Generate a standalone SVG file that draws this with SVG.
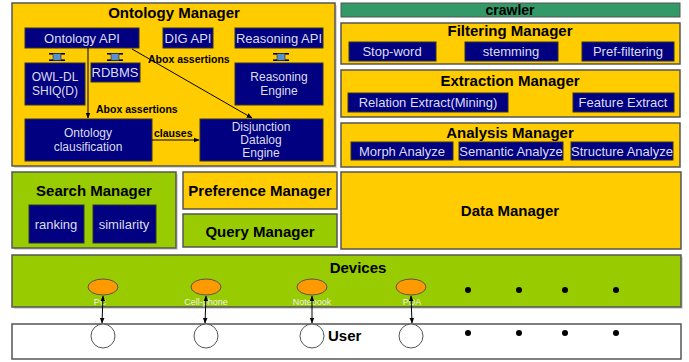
<svg xmlns="http://www.w3.org/2000/svg" width="689" height="362" viewBox="0 0 689 362">
<defs>
<style>
.yel{fill:#FFCC00;stroke:#555;stroke-width:1.5}
.grn{fill:#99CC00;stroke:#555;stroke-width:1.5}
.nv{fill:#000080;stroke:#333;stroke-width:1}
.sh{fill:#d8d8d8}
.t{font-family:"Liberation Sans",Arial,sans-serif;font-weight:bold;font-size:15px;fill:#000;text-anchor:middle;dominant-baseline:central}
.w{font-family:"Liberation Sans",Arial,sans-serif;font-size:13px;fill:#dde;text-anchor:middle;dominant-baseline:central}
.w2{font-family:"Liberation Sans",Arial,sans-serif;font-size:13px;fill:#dde;text-anchor:middle;dominant-baseline:central}
.m{font-family:"Liberation Sans",Arial,sans-serif;font-size:12px;fill:#dde;text-anchor:middle;dominant-baseline:central}
.lb{font-family:"Liberation Sans",Arial,sans-serif;font-weight:bold;font-size:10.5px;fill:#000;dominant-baseline:central}
.dl{font-family:"Liberation Sans",Arial,sans-serif;font-size:9px;fill:#eee;text-anchor:middle;dominant-baseline:central}
.ln{stroke:#000;stroke-width:1;fill:none}
.dot{fill:#000}
</style>
<marker id="ah" viewBox="0 0 10 10" refX="9" refY="5" markerWidth="6" markerHeight="6" orient="auto-start-reverse"><path d="M0,1 L10,5 L0,9 z" fill="#000"/></marker>
<g id="plug"><rect x="-8" y="-4" width="16" height="1.6" fill="#000"/><rect x="-8" y="2.4" width="16" height="1.6" fill="#000"/><rect x="-4" y="-3.5" width="8" height="7" fill="#5B8FD0" stroke="#223" stroke-width="0.6"/></g>
</defs>
<rect width="689" height="362" fill="#fff"/>

<g id="ontology-manager">
<rect x="14" y="5" width="323" height="163" class="sh"/>
<rect x="12" y="3" width="323" height="163" class="yel"/>
<text x="174" y="12" class="t">Ontology Manager</text>
</g>
<g id="ontology-api"><rect x="25" y="28" width="114" height="20" class="nv"/><text x="82" y="38" class="w2">Ontology API</text></g>
<g id="dig-api"><rect x="163" y="28" width="50" height="20" class="nv"/><text x="188" y="38" class="w2">DIG API</text></g>
<g id="reasoning-api"><rect x="235" y="28" width="88" height="20" class="nv"/><text x="279" y="38" class="w2">Reasoning API</text></g>
<use href="#plug" x="57" y="57"/>
<use href="#plug" x="115" y="57"/>
<use href="#plug" x="281" y="57"/>
<g id="owl-dl"><rect x="25" y="63" width="60" height="42" class="nv"/><text x="55" y="77" class="m">OWL-DL</text><text x="55" y="91" class="m">SHIQ(D)</text></g>
<g id="rdbms"><rect x="91" y="63" width="49" height="19" class="nv"/><text x="115" y="72" class="w2">RDBMS</text></g>
<g id="reasoning-engine"><rect x="235" y="63" width="88" height="42" class="nv"/><text x="279" y="77" class="m">Reasoning</text><text x="279" y="91" class="m">Engine</text></g>
<g id="ontology-clausification"><rect x="25" y="119" width="127" height="42" class="nv"/><text x="88" y="133" class="m">Ontology</text><text x="88" y="147" class="m">clausification</text></g>
<g id="disjunction-datalog"><rect x="200" y="119" width="123" height="42" class="nv"/><text x="261" y="127" class="m">Disjunction</text><text x="261" y="140" class="m">Datalog</text><text x="261" y="153" class="m">Engine</text></g>

<g id="crawler"><rect x="341" y="3" width="339" height="14" fill="#339966" stroke="#555" stroke-width="1"/><text x="510" y="10" class="t" style="font-size:14px">crawler</text></g>
<g id="filtering-manager">
<rect x="341" y="23" width="339" height="41" class="yel"/>
<text x="510" y="30" class="t">Filtering Manager</text>
<rect x="349" y="42" width="87" height="19" class="nv"/><text x="392" y="51" class="w2">Stop-word</text>
<rect x="465" y="42" width="93" height="19" class="nv"/><text x="511" y="51" class="w">stemming</text>
<rect x="582" y="42" width="92" height="19" class="nv"/><text x="628" y="51" class="w2">Pref-filtering</text>
</g>
<g id="extraction-manager">
<rect x="341" y="70" width="339" height="47" class="yel"/>
<text x="510" y="80" class="t">Extraction Manager</text>
<rect x="348" y="93" width="160" height="19" class="nv"/><text x="428" y="102" class="w2">Relation Extract(Mining)</text>
<rect x="573" y="93" width="101" height="19" class="nv"/><text x="623" y="102" class="w2">Feature Extract</text>
</g>
<g id="analysis-manager">
<rect x="341" y="123" width="339" height="44" class="yel"/>
<text x="510" y="132" class="t">Analysis Manager</text>
<rect x="351" y="142" width="102" height="18" class="nv"/><text x="402" y="151" class="w2">Morph Analyze</text>
<rect x="459" y="142" width="104" height="18" class="nv"/><text x="511" y="151" class="w2">Semantic Analyze</text>
<rect x="571" y="142" width="102" height="18" class="nv"/><text x="622" y="151" class="w2">Structure Analyze</text>
</g>

<g id="search-manager">
<rect x="14" y="174" width="164" height="76" class="sh"/>
<rect x="12" y="172" width="164" height="76" class="grn"/>
<text x="94" y="190" class="t">Search Manager</text>
<rect x="29" y="205" width="55" height="38" class="nv"/><text x="56" y="224" class="w">ranking</text>
<rect x="93" y="205" width="63" height="38" class="nv"/><text x="124" y="224" class="w">similarity</text>
</g>
<g id="preference-manager"><rect x="183" y="172" width="154" height="37" class="yel"/><text x="260" y="190" class="t">Preference Manager</text></g>
<g id="query-manager"><rect x="183" y="214" width="154" height="33" class="grn"/><text x="260" y="231" class="t">Query Manager</text></g>
<g id="data-manager"><rect x="341" y="172" width="340" height="77" class="yel"/><text x="510" y="210" class="t">Data Manager</text></g>

<g id="devices">
<rect x="14" y="257" width="669" height="52" class="sh"/>
<rect x="12" y="255" width="669" height="52" class="grn"/>
<text x="358" y="267" class="t">Devices</text>
</g>
<g id="pc"><ellipse cx="103" cy="287" rx="15" ry="8" fill="#FF9900" stroke="#555" stroke-width="1"/><text x="100" y="302" class="dl">PC</text></g>
<g id="cell-phone"><ellipse cx="206" cy="287" rx="15" ry="8" fill="#FF9900" stroke="#555" stroke-width="1"/><text x="206" y="302" class="dl">Cell-phone</text></g>
<g id="notebook"><ellipse cx="312" cy="287" rx="15" ry="8" fill="#FF9900" stroke="#555" stroke-width="1"/><text x="312" y="302" class="dl">Notebook</text></g>
<g id="pda"><ellipse cx="411" cy="287" rx="15" ry="8" fill="#FF9900" stroke="#555" stroke-width="1"/><text x="412" y="302" class="dl">PDA</text></g>
<circle cx="468" cy="290" r="3" class="dot"/><circle cx="519" cy="290" r="3" class="dot"/><circle cx="565" cy="290" r="3" class="dot"/><circle cx="616" cy="290" r="3" class="dot"/>

<g id="user">
<rect x="12" y="324" width="669" height="35" fill="#fff" stroke="#555" stroke-width="1.5"/>
<text x="328" y="335" class="t" style="text-anchor:start">User</text>
</g>
<g id="u1"><circle cx="103" cy="336" r="12" fill="#fff" stroke="#555"/></g>
<g id="u2"><circle cx="206" cy="336" r="12" fill="#fff" stroke="#555"/></g>
<g id="u3"><circle cx="312" cy="336" r="12" fill="#fff" stroke="#555"/></g>
<g id="u4"><circle cx="411" cy="336" r="12" fill="#fff" stroke="#555"/></g>
<circle cx="468" cy="333" r="3" class="dot"/><circle cx="519" cy="333" r="3" class="dot"/><circle cx="565" cy="333" r="3" class="dot"/><circle cx="616" cy="333" r="3" class="dot"/>

<g id="connectors">
<line x1="88" y1="48" x2="88" y2="118" class="ln" marker-end="url(#ah)"/>
<line x1="132" y1="49" x2="252" y2="118" class="ln" marker-end="url(#ah)"/>
<line x1="152" y1="140" x2="199" y2="140" class="ln" marker-end="url(#ah)"/>
<text x="148" y="59" class="lb">Abox assertions</text>
<text x="96" y="109" class="lb">Abox assertions</text>
<text x="154" y="133" class="lb">clauses</text>
<line x1="103" y1="296" x2="102" y2="323" class="ln" marker-start="url(#ah)" marker-end="url(#ah)"/>
<line x1="206" y1="296" x2="205" y2="323" class="ln" marker-start="url(#ah)" marker-end="url(#ah)"/>
<line x1="312" y1="296" x2="312" y2="323" class="ln" marker-start="url(#ah)" marker-end="url(#ah)"/>
<line x1="411" y1="296" x2="412" y2="323" class="ln" marker-start="url(#ah)" marker-end="url(#ah)"/>
</g>
</svg>
